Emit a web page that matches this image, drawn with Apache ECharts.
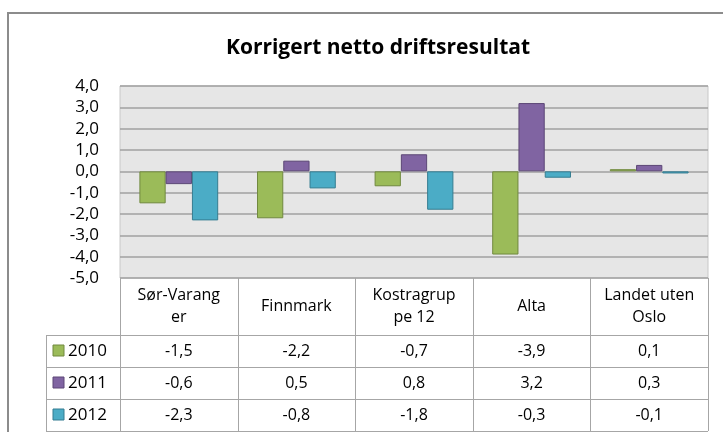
<!DOCTYPE html>
<html>
<head>
<meta charset="utf-8">
<script src="https://cdn.jsdelivr.net/npm/echarts@6/dist/echarts.min.js"></script>
<style>
  html, body { margin: 0; padding: 0; background: #fff; }
  #chart { width: 723px; height: 432px; }
</style>
</head>
<body>
<div id="chart"></div>
<script>
const categories = ['Sør-Varanger', 'Finnmark', 'Kostragruppe 12', 'Alta', 'Landet uten Oslo'];
const headerLabels = ['Sør-Varang\ner', 'Finnmark', 'Kostragrup\npe 12', 'Alta', 'Landet uten\nOslo'];
const years = ['2010', '2011', '2012'];
const values2010 = [-1.5, -2.2, -0.7, -3.9, 0.1];
const values2011 = [-0.6, 0.5, 0.8, 3.2, 0.3];
const values2012 = [-2.3, -0.8, -1.8, -0.3, -0.1];
const yTicks = { min: -5, max: 4, step: 1 };

const seriesValues = [values2010, values2011, values2012];
const colors = ['#9BBB59', '#8064A2', '#4BACC6'];
const borders = ['#71893F', '#5C4776', '#357D91'];
const FONT = '"Open Sans", "Liberation Sans", sans-serif';
const LINE = '#A6A6A6';

function fmt(v) {
  return v.toFixed(1).replace('.', ',');
}

const chart = echarts.init(document.getElementById('chart'));

const option = {
  animation: false,
  title: {
    text: 'Korrigert netto driftsresultat',
    left: 373,
    textAlign: 'center',
    top: 33,
    textStyle: { fontFamily: FONT, fontSize: 21, fontWeight: 'bold', color: '#000' }
  },
  grid: {
    left: 120, right: 15, top: 86, bottom: 154,
    show: true, backgroundColor: '#E6E6E6', borderColor: '#C8C8C8', borderWidth: 1
  },
  xAxis: {
    type: 'category',
    data: categories,
    axisLine: { show: false },
    axisTick: { show: false },
    axisLabel: { show: false },
    splitLine: { show: false }
  },
  yAxis: {
    type: 'value',
    min: yTicks.min,
    max: yTicks.max,
    interval: yTicks.step,
    axisLine: { show: false },
    axisTick: { show: false },
    axisLabel: {
      formatter: fmt,
      margin: 21,
      fontFamily: FONT,
      fontSize: 17,
      color: '#000'
    },
    splitLine: { lineStyle: { color: '#A0A0A0', width: 1.5 } }
  },
  series: years.map((y, i) => ({
    name: y,
    type: 'bar',
    data: seriesValues[i],
    barGap: '0%',
    barCategoryGap: '33%',
    itemStyle: { color: colors[i], borderColor: borders[i], borderWidth: 1 }
  }))
};
chart.setOption(option);

// data table below the plot, placed with the category axis scale
const band = chart.convertToPixel({ xAxisIndex: 0 }, 1) - chart.convertToPixel({ xAxisIndex: 0 }, 0);
const plotBottom = chart.convertToPixel({ yAxisIndex: 0 }, yTicks.min);
const headerBottom = 335;
const rowH = 32;
const tableLeft = 46;
const colLeft = chart.convertToPixel({ xAxisIndex: 0 }, 0) - band / 2;
const colRight = chart.convertToPixel({ xAxisIndex: 0 }, categories.length - 1) + band / 2;
const tableBottom = headerBottom + rowH * years.length;

const g = [];
// outer chart border (top and left)
g.push({ type: 'polyline', shape: { points: [[8, 432], [8, 13], [723, 13]] },
  style: { stroke: '#8C8C8C', lineWidth: 2, fill: null } });
// vertical lines of the table
for (let i = 0; i <= categories.length; i++) {
  const x = Math.round(colLeft + band * i) + 0.5;
  g.push({ type: 'line', shape: { x1: x, y1: plotBottom, x2: x, y2: tableBottom },
    style: { stroke: LINE, lineWidth: 1 } });
}
g.push({ type: 'line', shape: { x1: tableLeft + 0.5, y1: headerBottom, x2: tableLeft + 0.5, y2: tableBottom },
  style: { stroke: LINE, lineWidth: 1 } });
// horizontal lines of the table
for (let r = 0; r <= years.length; r++) {
  const y = headerBottom + rowH * r + 0.5;
  g.push({ type: 'line', shape: { x1: tableLeft, y1: y, x2: colRight, y2: y },
    style: { stroke: LINE, lineWidth: 1 } });
}
// category headers
categories.forEach((c, i) => {
  const x = chart.convertToPixel({ xAxisIndex: 0 }, i);
  g.push({ type: 'text', x: x, y: (plotBottom + headerBottom) / 2,
    style: { text: headerLabels[i], fontFamily: FONT, fontSize: 16, fill: '#000',
      align: 'center', verticalAlign: 'middle', lineHeight: 22 } });
});
// rows: legend key, year, values
years.forEach((y, r) => {
  const cy = headerBottom + rowH * r + rowH / 2;
  g.push({ type: 'rect', shape: { x: 53, y: cy - 6, width: 11, height: 11 },
    style: { fill: colors[r], stroke: borders[r], lineWidth: 1 } });
  g.push({ type: 'text', x: 68, y: cy,
    style: { text: y, fontFamily: FONT, fontSize: 17, fill: '#000', align: 'left', verticalAlign: 'middle' } });
  seriesValues[r].forEach((v, i) => {
    const x = chart.convertToPixel({ xAxisIndex: 0 }, i);
    g.push({ type: 'text', x: x, y: cy,
      style: { text: fmt(v), fontFamily: FONT, fontSize: 16, fill: '#000', align: 'center', verticalAlign: 'middle' } });
  });
});
chart.setOption({ graphic: g });
</script>
</body>
</html>
